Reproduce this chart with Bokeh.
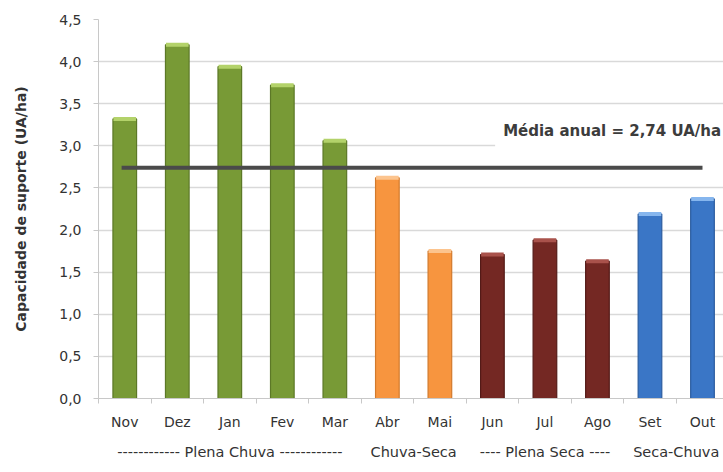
from bokeh.plotting import figure
from bokeh.models import Range1d, FixedTicker, Label, ColumnDataSource, LinearAxis
from bokeh.embed import file_html
from bokeh.resources import INLINE

months = ["Nov", "Dez", "Jan", "Fev", "Mar", "Abr", "Mai", "Jun", "Jul", "Ago", "Set", "Out"]
values = [3.32, 4.20, 3.94, 3.72, 3.06, 2.62, 1.75, 1.71, 1.88, 1.63, 2.19, 2.37]
season = ["chuva"] * 5 + ["chuva_seca"] * 2 + ["seca"] * 3 + ["seca_chuva"] * 2
mean_value = 2.74
mean_text = "Média anual  =  2,74 UA/ha"
y_ticks = [0.0, 0.5, 1.0, 1.5, 2.0, 2.5, 3.0, 3.5, 4.0, 4.5]
y_tick_labels = ["0,0", "0,5", "1,0", "1,5", "2,0", "2,5", "3,0", "3,5", "4,0", "4,5"]
groups = ["------------ Plena Chuva ------------", "Chuva-Seca", "---- Plena Seca ----", "Seca-Chuva"]
group_first = [0, 5, 7, 10]
group_last = [4, 6, 9, 11]

fill = {"chuva": "#789a36", "chuva_seca": "#f7953f", "seca": "#742823", "seca_chuva": "#3a76c6"}
edge = {"chuva": "#5c7827", "chuva_seca": "#d27a2c", "seca": "#531a17", "seca_chuva": "#2a5b9e"}
cap = {"chuva": "#b3d26a", "chuva_seca": "#fcc48e", "seca": "#a9524b", "seca_chuva": "#86b6ee"}

xs = list(range(len(months)))
src = ColumnDataSource(dict(
    x=xs, top=values,
    fill=[fill[s] for s in season],
    edge=[edge[s] for s in season],
    cap=[cap[s] for s in season],
))

p = figure(width=723, height=472, output_backend="svg", toolbar_location=None,
           x_range=Range1d(-0.5, 11.4), y_range=Range1d(0, 4.5),
           min_border_left=98, min_border_right=0, min_border_top=19, min_border_bottom=74)
p.outline_line_color = None
p.background_fill_color = "white"
p.border_fill_color = "white"

p.vbar(x="x", top="top", width=0.45, source=src, fill_color="fill", line_color="edge", line_width=1.2)
p.rect(x="x", y="top", width=0.43, height=4, height_units="screen", source=src,
       fill_color="cap", line_color=None)

# mean line
p.line(x=[-0.06, 11.0], y=[mean_value, mean_value], line_color="#4a4a4a", line_width=4)

lab = Label(x=11.4, y=3.18, x_offset=16, text=mean_text, text_align="right", text_baseline="alphabetic",
            text_font="DejaVu Sans", text_font_size="15px", text_font_style="bold",
            text_color="#3c3c3c", background_fill_color="white", padding=8)
p.add_layout(lab)

# axes
p.xgrid.grid_line_color = None
p.ygrid.grid_line_color = "#d9d9d9"
p.ygrid.grid_line_width = 1.5
p.ygrid.ticker = FixedTicker(ticks=y_ticks)

p.yaxis.ticker = FixedTicker(ticks=y_ticks)
p.yaxis.major_label_overrides = {t: l for t, l in zip(y_ticks, y_tick_labels)}
p.yaxis.axis_line_color = "#c8c8c8"
p.yaxis.major_tick_line_color = "#c8c8c8"
p.yaxis.major_tick_out = 5
p.yaxis.major_tick_in = 0
p.yaxis.minor_tick_line_color = None
p.yaxis.major_label_text_font = "DejaVu Sans"
p.yaxis.major_label_text_font_size = "14px"
p.yaxis.major_label_text_color = "#333333"
p.yaxis.major_label_standoff = 12
p.yaxis.axis_label = "Capacidade de suporte (UA/ha)"
p.yaxis.axis_label_text_font = "DejaVu Sans"
p.yaxis.axis_label_text_font_size = "14px"
p.yaxis.axis_label_text_font_style = "bold"
p.yaxis.axis_label_text_color = "#333333"
p.yaxis.axis_label_standoff = 27

p.xaxis.ticker = FixedTicker(ticks=xs, minor_ticks=[i - 0.5 for i in range(len(months) + 1)])
p.xaxis.major_label_overrides = {i: m for i, m in enumerate(months)}
p.xaxis.axis_line_color = "#c8c8c8"
p.xaxis.major_tick_out = 0
p.xaxis.major_tick_in = 0
p.xaxis.minor_tick_line_color = "#c8c8c8"
p.xaxis.minor_tick_out = 5
p.xaxis.minor_tick_in = 0
p.xaxis.major_label_text_font = "DejaVu Sans"
p.xaxis.major_label_text_font_size = "14px"
p.xaxis.major_label_text_color = "#333333"
p.xaxis.major_label_standoff = 10

group_centers = [(a + b) / 2 for a, b in zip(group_first, group_last)]
gaxis = LinearAxis(ticker=FixedTicker(ticks=group_centers, minor_ticks=[]),
                   major_label_overrides={c: g for c, g in zip(group_centers, groups)})
gaxis.axis_line_color = None
gaxis.major_tick_line_color = None
gaxis.minor_tick_line_color = None
gaxis.major_label_text_font = "DejaVu Sans"
gaxis.major_label_text_font_size = "14.5px"
gaxis.major_label_text_color = "#333333"
gaxis.major_label_standoff = 5
p.add_layout(gaxis, "below")

open("out.html", "w").write(file_html(p, INLINE))
